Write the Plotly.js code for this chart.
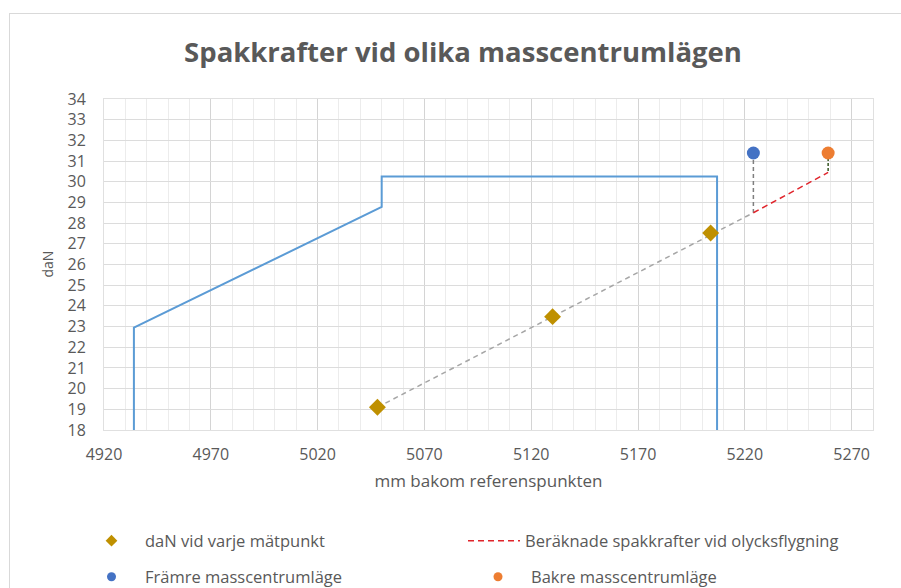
<!DOCTYPE html>
<html>
<head>
<meta charset="utf-8">
<script src="https://cdn.plot.ly/plotly-3.0.1.min.js"></script>
<style>
  html, body { margin: 0; padding: 0; background: #fff; overflow: hidden; }
  #chart { width: 901px; height: 588px; position: absolute; left: 0; top: 0; }
  #frame { position: absolute; left: 9px; top: 13px; width: 1000px; height: 1000px;
           border: 1px solid #d9d9d9; pointer-events: none; }
  #chart g[class^="legend"] .traces, #chart .infolayer .traces { opacity: 1 !important; }
</style>
</head>
<body>
<div id="chart"></div>
<div id="frame"></div>
<script>
// Limit envelope (blue outline)
const limitX = [4934, 4934, 5050, 5050, 5207, 5207];
const limitY = [18, 22.95, 28.78, 30.25, 30.25, 18];

// Measured points (daN vid varje mätpunkt)
const measX = [5048, 5130, 5204];
const measY = [19.1, 23.48, 27.52];

// Trend line through measurements (grey dashed)
const trendX = [5048, 5224];
const trendY = [19.1, 28.5];

// Calculated stick forces in accident flight (red dashed)
const calcX = [5224, 5259];
const calcY = [28.5, 30.45];

// Centre of mass positions
const frontX = [5224];
const frontY = [31.39];
const rearX = [5259];
const rearY = [31.39];

// Drop lines from CoM markers
const frontDropX = [5224, 5224];
const frontDropY = [31.39, 28.5];
const rearDropX = [5259, 5259];
const rearDropY = [31.39, 30.45];

const legendNames = [
  'daN vid varje mätpunkt',
  'Beräknade spakkrafter vid olycksflygning',
  'Främre masscentrumläge',
  'Bakre masscentrumläge'
];

const FONT = 'Open Sans, Noto Sans, sans-serif';
const GREY = '#595959';

const traces = [
  { x: limitX, y: limitY, mode: 'lines', line: { color: '#5b9bd5', width: 2 },
    showlegend: false, hoverinfo: 'skip' },
  { x: trendX, y: trendY, mode: 'lines', line: { color: '#a6a6a6', width: 1.5, dash: '5px,4px' },
    showlegend: false, hoverinfo: 'skip' },
  { x: frontDropX, y: frontDropY, mode: 'lines', line: { color: '#7f7f7f', width: 1.5, dash: '4px,3px' },
    showlegend: false, hoverinfo: 'skip' },
  { x: rearDropX, y: rearDropY, mode: 'lines', line: { color: '#375623', width: 1.5, dash: '3px,2px' },
    showlegend: false, hoverinfo: 'skip' },
  { x: calcX, y: calcY, mode: 'lines', name: legendNames[1], legend: 'legend2',
    line: { color: '#e0242b', width: 1.5, dash: '6px,4px' } },
  { x: measX, y: measY, mode: 'markers', showlegend: false, hoverinfo: 'skip',
    marker: { symbol: 'diamond', size: 13, color: '#bf9000' } },
  { x: frontX, y: frontY, mode: 'markers', showlegend: false, hoverinfo: 'skip',
    marker: { symbol: 'circle', size: 13, color: '#4472c4' } },
  { x: rearX, y: rearY, mode: 'markers', showlegend: false, hoverinfo: 'skip',
    marker: { symbol: 'circle', size: 13, color: '#ed7d31' } },
  // legend entries (smaller symbols, as in the original legend)
  { x: measX, y: measY, mode: 'markers', name: legendNames[0], legend: 'legend', visible: 'legendonly',
    marker: { symbol: 'diamond', size: 9, color: '#bf9000' } },
  { x: frontX, y: frontY, mode: 'markers', name: legendNames[2], legend: 'legend3', visible: 'legendonly',
    marker: { symbol: 'circle', size: 9, color: '#4472c4' } },
  { x: rearX, y: rearY, mode: 'markers', name: legendNames[3], legend: 'legend4', visible: 'legendonly',
    marker: { symbol: 'circle', size: 9, color: '#ed7d31' } }
];

function leg(px, py, iw) {
  return {
    xref: 'container', yref: 'container',
    x: px / 901, y: 1 - py / 588, xanchor: 'left', yanchor: 'middle',
    itemwidth: iw, itemsizing: 'trace', bgcolor: 'rgba(0,0,0,0)', borderwidth: 0,
    font: { family: FONT, size: 16.5, color: GREY },
    itemclick: false, itemdoubleclick: false
  };
}

const layout = {
  width: 901, height: 588,
  paper_bgcolor: '#ffffff', plot_bgcolor: '#ffffff',
  margin: { l: 104, r: 28, t: 99, b: 158, autoexpand: false },
  title: {
    text: '<b>Spakkrafter vid olika masscentrumlägen</b>',
    font: { family: FONT, size: 27.5, color: GREY },
    x: 463 / 901, xref: 'container', xanchor: 'center',
    y: 1 - 52 / 588, yref: 'container', yanchor: 'middle'
  },
  xaxis: {
    range: [4920, 5280], tick0: 4920, dtick: 50,
    showgrid: true, gridcolor: '#d4d4d4', gridwidth: 1,
    minor: { dtick: 10, tick0: 4920, showgrid: true, gridcolor: '#ececec', gridwidth: 1 },
    zeroline: false, showline: true, mirror: true, linecolor: '#e0e0e0', linewidth: 1,
    ticks: '', ticklabelstandoff: 10, tickangle: 0,
    tickfont: { family: FONT, size: 16, color: GREY },
    title: { text: 'mm bakom referenspunkten', font: { family: FONT, size: 17, color: GREY }, standoff: 10 },
    fixedrange: true
  },
  yaxis: {
    range: [18, 34], tick0: 18, dtick: 1,
    showgrid: true, gridcolor: '#dcdcdc', gridwidth: 1,
    zeroline: false, showline: true, mirror: true, linecolor: '#e0e0e0', linewidth: 1,
    ticks: '', ticklabelstandoff: 14,
    tickfont: { family: FONT, size: 16, color: GREY },
    title: { text: '' },
    fixedrange: true
  },
  annotations: [{
    text: 'daN', textangle: -90, showarrow: false,
    xref: 'paper', yref: 'paper', x: (47 - 104) / 769, y: 0.5,
    xanchor: 'center', yanchor: 'middle',
    font: { family: FONT, size: 14, color: GREY }
  }],
  legend: leg(78, 541, 57),
  legend2: leg(463, 541, 52),
  legend3: leg(78, 577, 57),
  legend4: leg(465, 577, 56),
  showlegend: true
};

Plotly.newPlot('chart', traces, layout, { displayModeBar: false, staticPlot: true });
</script>
</body>
</html>
